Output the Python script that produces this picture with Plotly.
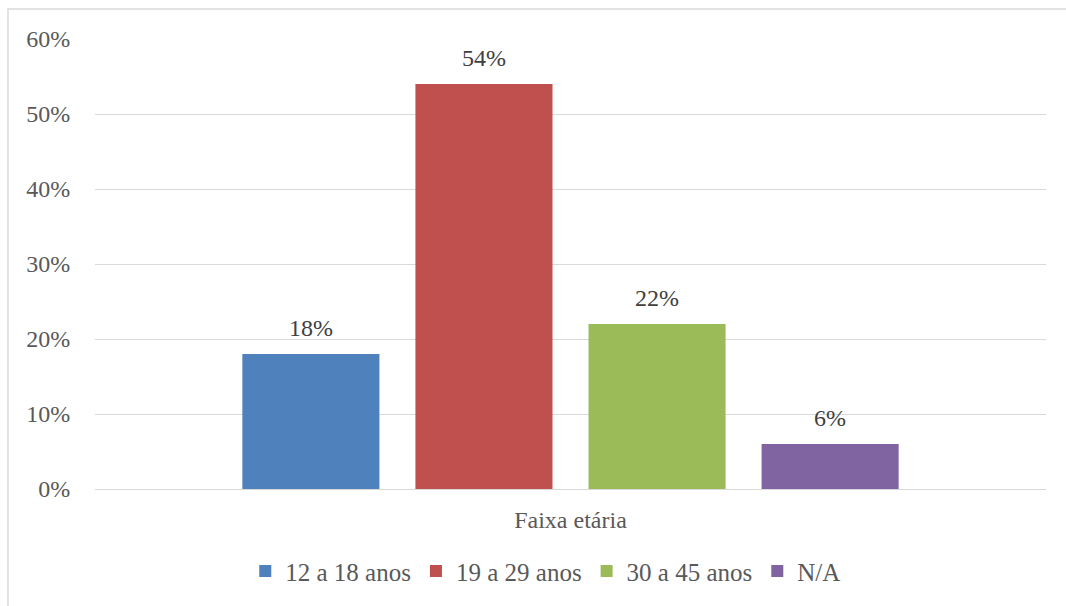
import plotly.graph_objects as go

categories = ["Faixa etária"]
series_names = ["12 a 18 anos", "19 a 29 anos", "30 a 45 anos", "N/A"]
series_values = [[0.18], [0.54], [0.22], [0.06]]
colors = ["#4F81BD", "#C0504D", "#9BBB59", "#8064A2"]
y_ticks = [0, 0.1, 0.2, 0.3, 0.4, 0.5, 0.6]

FONT = "Liberation Serif"
FS = 24
PAD = "<span style='font-size:70px'>\u00a0</span>"

fig = go.Figure()
for name, vals, col in zip(series_names, series_values, colors):
    fig.add_trace(go.Bar(
        x=categories, y=vals, name=name, marker=dict(color=col, line=dict(width=0)),
        text=[f"{PAD}{v*100:.0f}%{PAD}" for v in vals],
        textposition="outside",
        textfont=dict(family=FONT, size=FS, color="#404040"), cliponaxis=False,
    ))

fig.update_layout(
    width=1066, height=606,
    margin=dict(l=95, r=20, t=39, b=115),
    paper_bgcolor="white", plot_bgcolor="white",
    barmode="group", bargap=0.272, bargroupgap=0.208,
    font=dict(family=FONT, size=FS, color="#595959"),
    showlegend=True,
    legend=dict(orientation="h", x=0.474, xanchor="center", y=-0.183, yanchor="middle",
                font=dict(family=FONT, size=25, color="#595959"), itemwidth=30,
                traceorder="normal"),
    xaxis=dict(showgrid=False, showline=True, linecolor="#D9D9D9", linewidth=1,
               ticks="outside", ticklen=9, tickcolor="rgba(0,0,0,0)",
               tickfont=dict(family=FONT, size=FS, color="#595959")),
    yaxis=dict(range=[0, 0.6], tickvals=y_ticks, tickformat=".0%", showgrid=True,
               gridcolor="#D9D9D9", gridwidth=1, zeroline=False, showline=False,
               ticks="outside", ticklen=19, tickcolor="rgba(0,0,0,0)",
               tickfont=dict(family=FONT, size=FS, color="#595959")),
    shapes=[dict(type="rect", xref="paper", yref="paper",
                 x0=-0.0915, x1=1.1, y0=-0.4, y1=1.0664,
                 line=dict(color="#D9D9D9", width=1.5), fillcolor="rgba(0,0,0,0)",
                 layer="below")],
)

fig.write_html("out.html")
